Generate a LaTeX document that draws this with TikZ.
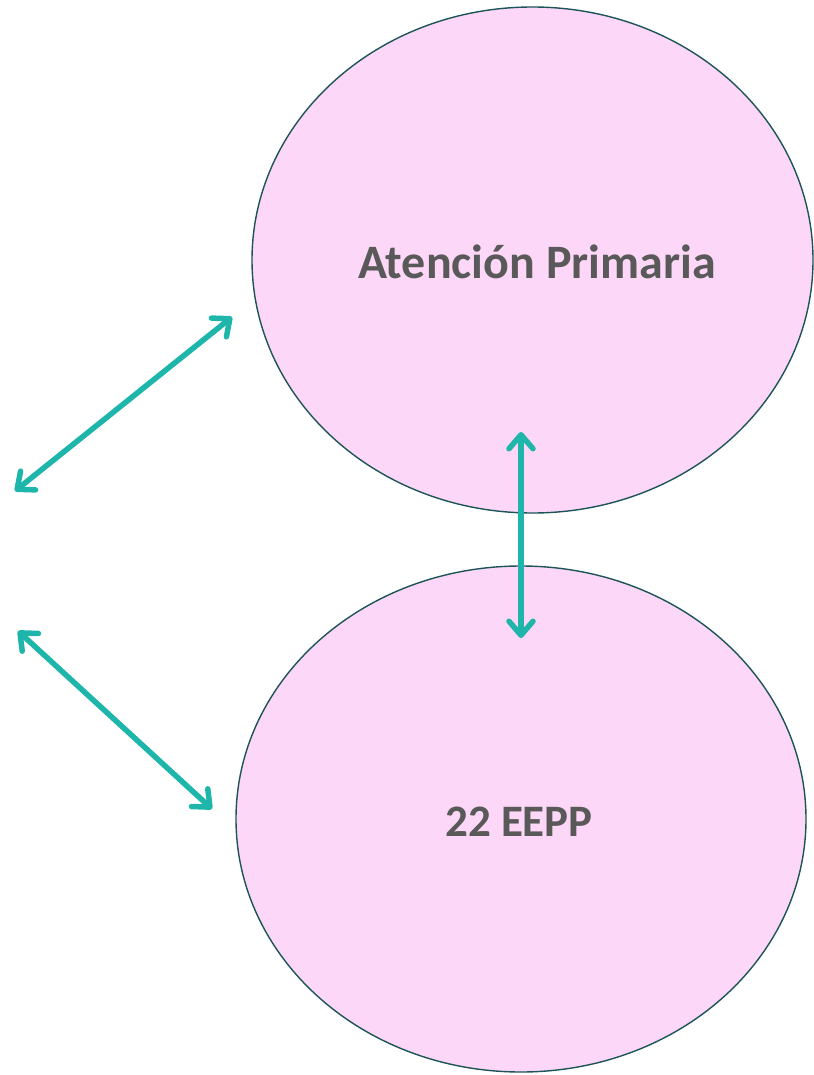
\documentclass[tikz,border=0pt]{standalone}
\usepackage{fontspec}
\setmainfont{Carlito}
\usepackage{xcolor}
\usepackage{tikz}
\usetikzlibrary{
	positioning,     % posizione relativa dei nodi
	arrows.meta,     % punte di freccia
	shapes.geometric % ellissi
}
\definecolor{rosa}{HTML}{FDD7F7}
\definecolor{bordo}{HTML}{1D5458}
\definecolor{verdeacqua}{HTML}{1EB6AA}
\definecolor{grigio}{HTML}{595959}

\begin{document}
\begin{tikzpicture}[
				x=1pt, y=-1pt,
				cerchio/.style={ellipse, draw=bordo, line width=1.4pt, fill=rosa,
					inner sep=0pt},
				testo/.style={text=grigio, inner sep=0pt},
				freccia/.style={{Straight Barb[length=14pt, width=24pt, round]}-{Straight Barb[length=14pt, width=24pt, round]},
					line width=5.5pt, verdeacqua, line cap=round}
				]
				
				% --- Area ---
				\useasboundingbox (0,0) rectangle (813,1075);
				
				% --- Ellissi ---
				\node[cerchio, minimum width=561pt, minimum height=506pt] (ap) at (532.5,260) {};
				\node[cerchio, minimum width=570pt, minimum height=506pt] (eepp) at (521,819) {};
				
				% --- Testi ---
				\node[testo, font=\fontsize{48}{50}\selectfont\bfseries] (apt) at (537,262) {Atención Primaria};
				\node[testo, font=\fontsize{45}{48}\selectfont\bfseries] (eeppt) at (519,822) {22 EEPP};
				
				% --- Estremi delle frecce ---
				\coordinate (a1) at (15,491);
				\coordinate (a2) at (232,317);
				\coordinate (b1) at (18,631);
				\coordinate (b2) at (212,809);
				\coordinate (c1) at (521,432);
				\coordinate (c2) at (521,638);
				
				% --- Frecce ---
				\draw[freccia] (a1) -- (a2);
				\draw[freccia] (b1) -- (b2);
				\draw[freccia] (c1) -- (c2);
				
			\end{tikzpicture}
\end{document}
